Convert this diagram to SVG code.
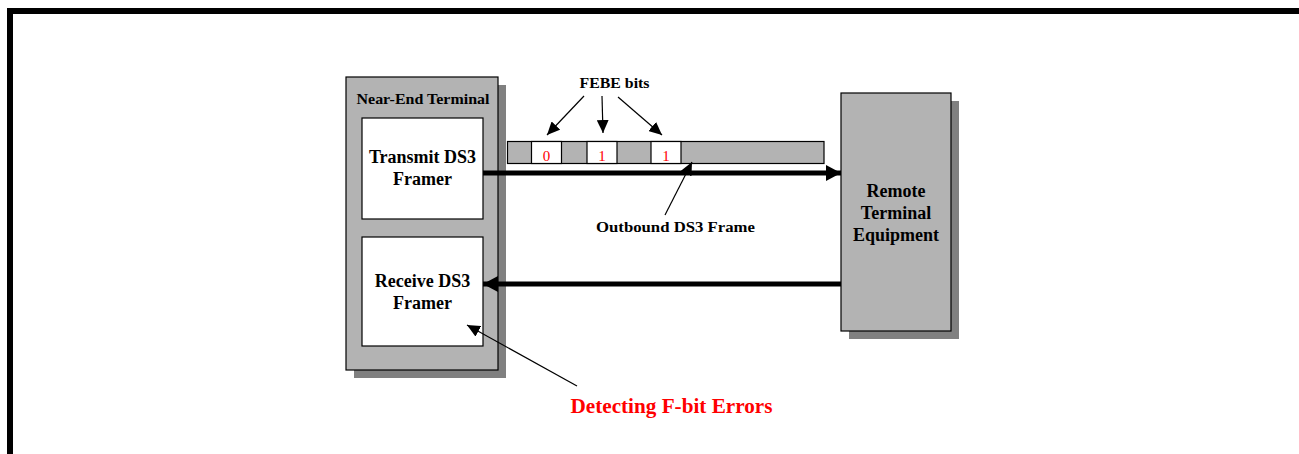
<svg xmlns="http://www.w3.org/2000/svg" width="1299" height="454" viewBox="0 0 1299 454">
<defs>
<marker id="thin" markerUnits="userSpaceOnUse" markerWidth="14" markerHeight="12" refX="13" refY="6" orient="auto"><path d="M0,0 L13,6 L0,12 Z" fill="#000"/></marker>
<marker id="thick" markerUnits="userSpaceOnUse" markerWidth="16" markerHeight="16" refX="15" refY="8" orient="auto"><path d="M0,0 L15,8 L0,16 Z" fill="#000"/></marker>
</defs>
<style>
.box{fill:#b3b3b3;stroke:#000;stroke-width:1.2}
.shadow{fill:#808080}
.inner{fill:#fff;stroke:#000;stroke-width:1.2}
.t{font-family:"Liberation Serif","Times New Roman",serif;font-weight:bold;fill:#000;text-anchor:middle}
.big{font-size:18px}
.small{font-size:15px}
.bit{font-family:"Liberation Serif","Times New Roman",serif;font-size:15px;fill:#ff0000;text-anchor:middle}
.thinline{stroke:#000;stroke-width:1.2;fill:none;marker-end:url(#thin)}
.thickline{stroke:#000;stroke-width:5;fill:none;marker-end:url(#thick)}
</style>
<rect width="1299" height="454" fill="#fff"/>
<path d="M10,454 V11 H1299" fill="none" stroke="#000" stroke-width="6"/>

<g id="near-end-terminal">
<rect class="shadow" x="354" y="85" width="152" height="293"/>
<rect class="box" x="346" y="77" width="152" height="293"/>
<text class="t small" x="423" y="104" textLength="133" lengthAdjust="spacingAndGlyphs">Near-End Terminal</text>
</g>
<g id="transmit-framer">
<rect class="inner" x="362" y="118" width="121" height="101"/>
<text class="t big" x="422.5" y="163">Transmit DS3</text>
<text class="t big" x="422.5" y="185">Framer</text>
</g>
<g id="receive-framer">
<rect class="inner" x="362" y="237" width="121" height="109"/>
<text class="t big" x="422.5" y="287">Receive DS3</text>
<text class="t big" x="422.5" y="309">Framer</text>
</g>
<g id="remote-terminal">
<rect class="shadow" x="849" y="101" width="110" height="238"/>
<rect class="box" x="841" y="93" width="110" height="238"/>
<text class="t big" x="896" y="197">Remote</text>
<text class="t big" x="896" y="219">Terminal</text>
<text class="t big" x="896" y="241">Equipment</text>
</g>
<g id="outbound-frame">
<rect class="box" x="507.5" y="141.5" width="316.5" height="22"/>
<rect class="inner" x="531.5" y="141.5" width="30" height="22"/>
<rect class="inner" x="587" y="141.5" width="30" height="22"/>
<rect class="inner" x="651" y="141.5" width="30" height="22"/>
<text class="bit" x="546.5" y="161">0</text>
<text class="bit" x="602" y="161">1</text>
<text class="bit" x="666" y="161">1</text>
</g>
<g id="labels">
<text class="t small" x="614.5" y="87.5" textLength="70" lengthAdjust="spacingAndGlyphs">FEBE bits</text>
<text class="t small" x="675.5" y="231.5" textLength="159" lengthAdjust="spacingAndGlyphs">Outbound DS3 Frame</text>
<text class="t" x="671.5" y="413" font-size="21" fill="#ff0000" style="fill:#ff0000" textLength="202" lengthAdjust="spacingAndGlyphs">Detecting F-bit Errors</text>
</g>
<g id="connectors">
<line class="thickline" x1="483" y1="173" x2="841" y2="173"/>
<line class="thickline" x1="841" y1="284" x2="483" y2="284"/>
<line class="thinline" x1="584" y1="96" x2="547" y2="135"/>
<line class="thinline" x1="602" y1="96" x2="603" y2="133"/>
<line class="thinline" x1="618" y1="97" x2="662" y2="135"/>
<line class="thinline" x1="665" y1="215" x2="692" y2="162"/>
<line class="thinline" x1="577" y1="386" x2="467" y2="325"/>
</g>
</svg>
